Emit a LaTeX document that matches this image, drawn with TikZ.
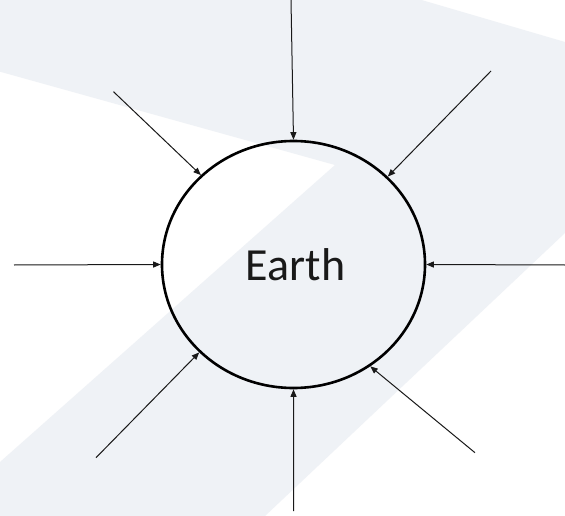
\documentclass[tikz,border=0pt]{standalone}
\usepackage{fontspec}
\setmainfont{Carlito}
\usetikzlibrary{shapes.geometric,arrows.meta}
\definecolor{bandgrey}{RGB}{239,242,246}
\definecolor{inkc}{RGB}{25,25,25}
\tikzset{
  ray/.style={draw=inkc, line width=1pt, -{Triangle[length=7.5pt,width=6pt]}},
  planet/.style={ellipse, draw=black, line width=2.6pt, minimum width=263pt, minimum height=247pt, inner sep=0pt, font=\fontsize{46}{52}\selectfont, text=inkc}
}
\begin{document}
\begin{tikzpicture}[x=1pt,y=-1pt]
\useasboundingbox (0,0) rectangle (565,516);
\fill[white] (0,0) rectangle (565,516);
\fill[bandgrey] (0,0) -- (421.6,0) -- (565,42) -- (565,233) -- (265,516) -- (0,516) -- (0,462) -- (335,165) -- (0,71.7) -- cycle;
\node[planet] (earth) at (293.5,264.5) {\hspace*{4pt}Earth};
\coordinate (tl) at (113.5,91.7);
\coordinate (t) at (291,0);
\coordinate (tr) at (491,71);
\coordinate (l) at (14,265);
\coordinate (r) at (565,265);
\coordinate (bl) at (96,457.7);
\coordinate (b) at (293.7,511);
\coordinate (br) at (475,452.7);
\draw[ray] (tl) -- (earth.136.3);
\draw[ray] (t) -- (earth.90);
\draw[ray] (tr) -- (earth.43.2);
\draw[ray] (l) -- (earth.180);
\draw[ray] (r) -- (earth.0);
\draw[ray] (bl) -- (earth.223.3);
\draw[ray] (b) -- (earth.270);
\draw[ray] (br) -- (earth.307.9);
\end{tikzpicture}
\end{document}
